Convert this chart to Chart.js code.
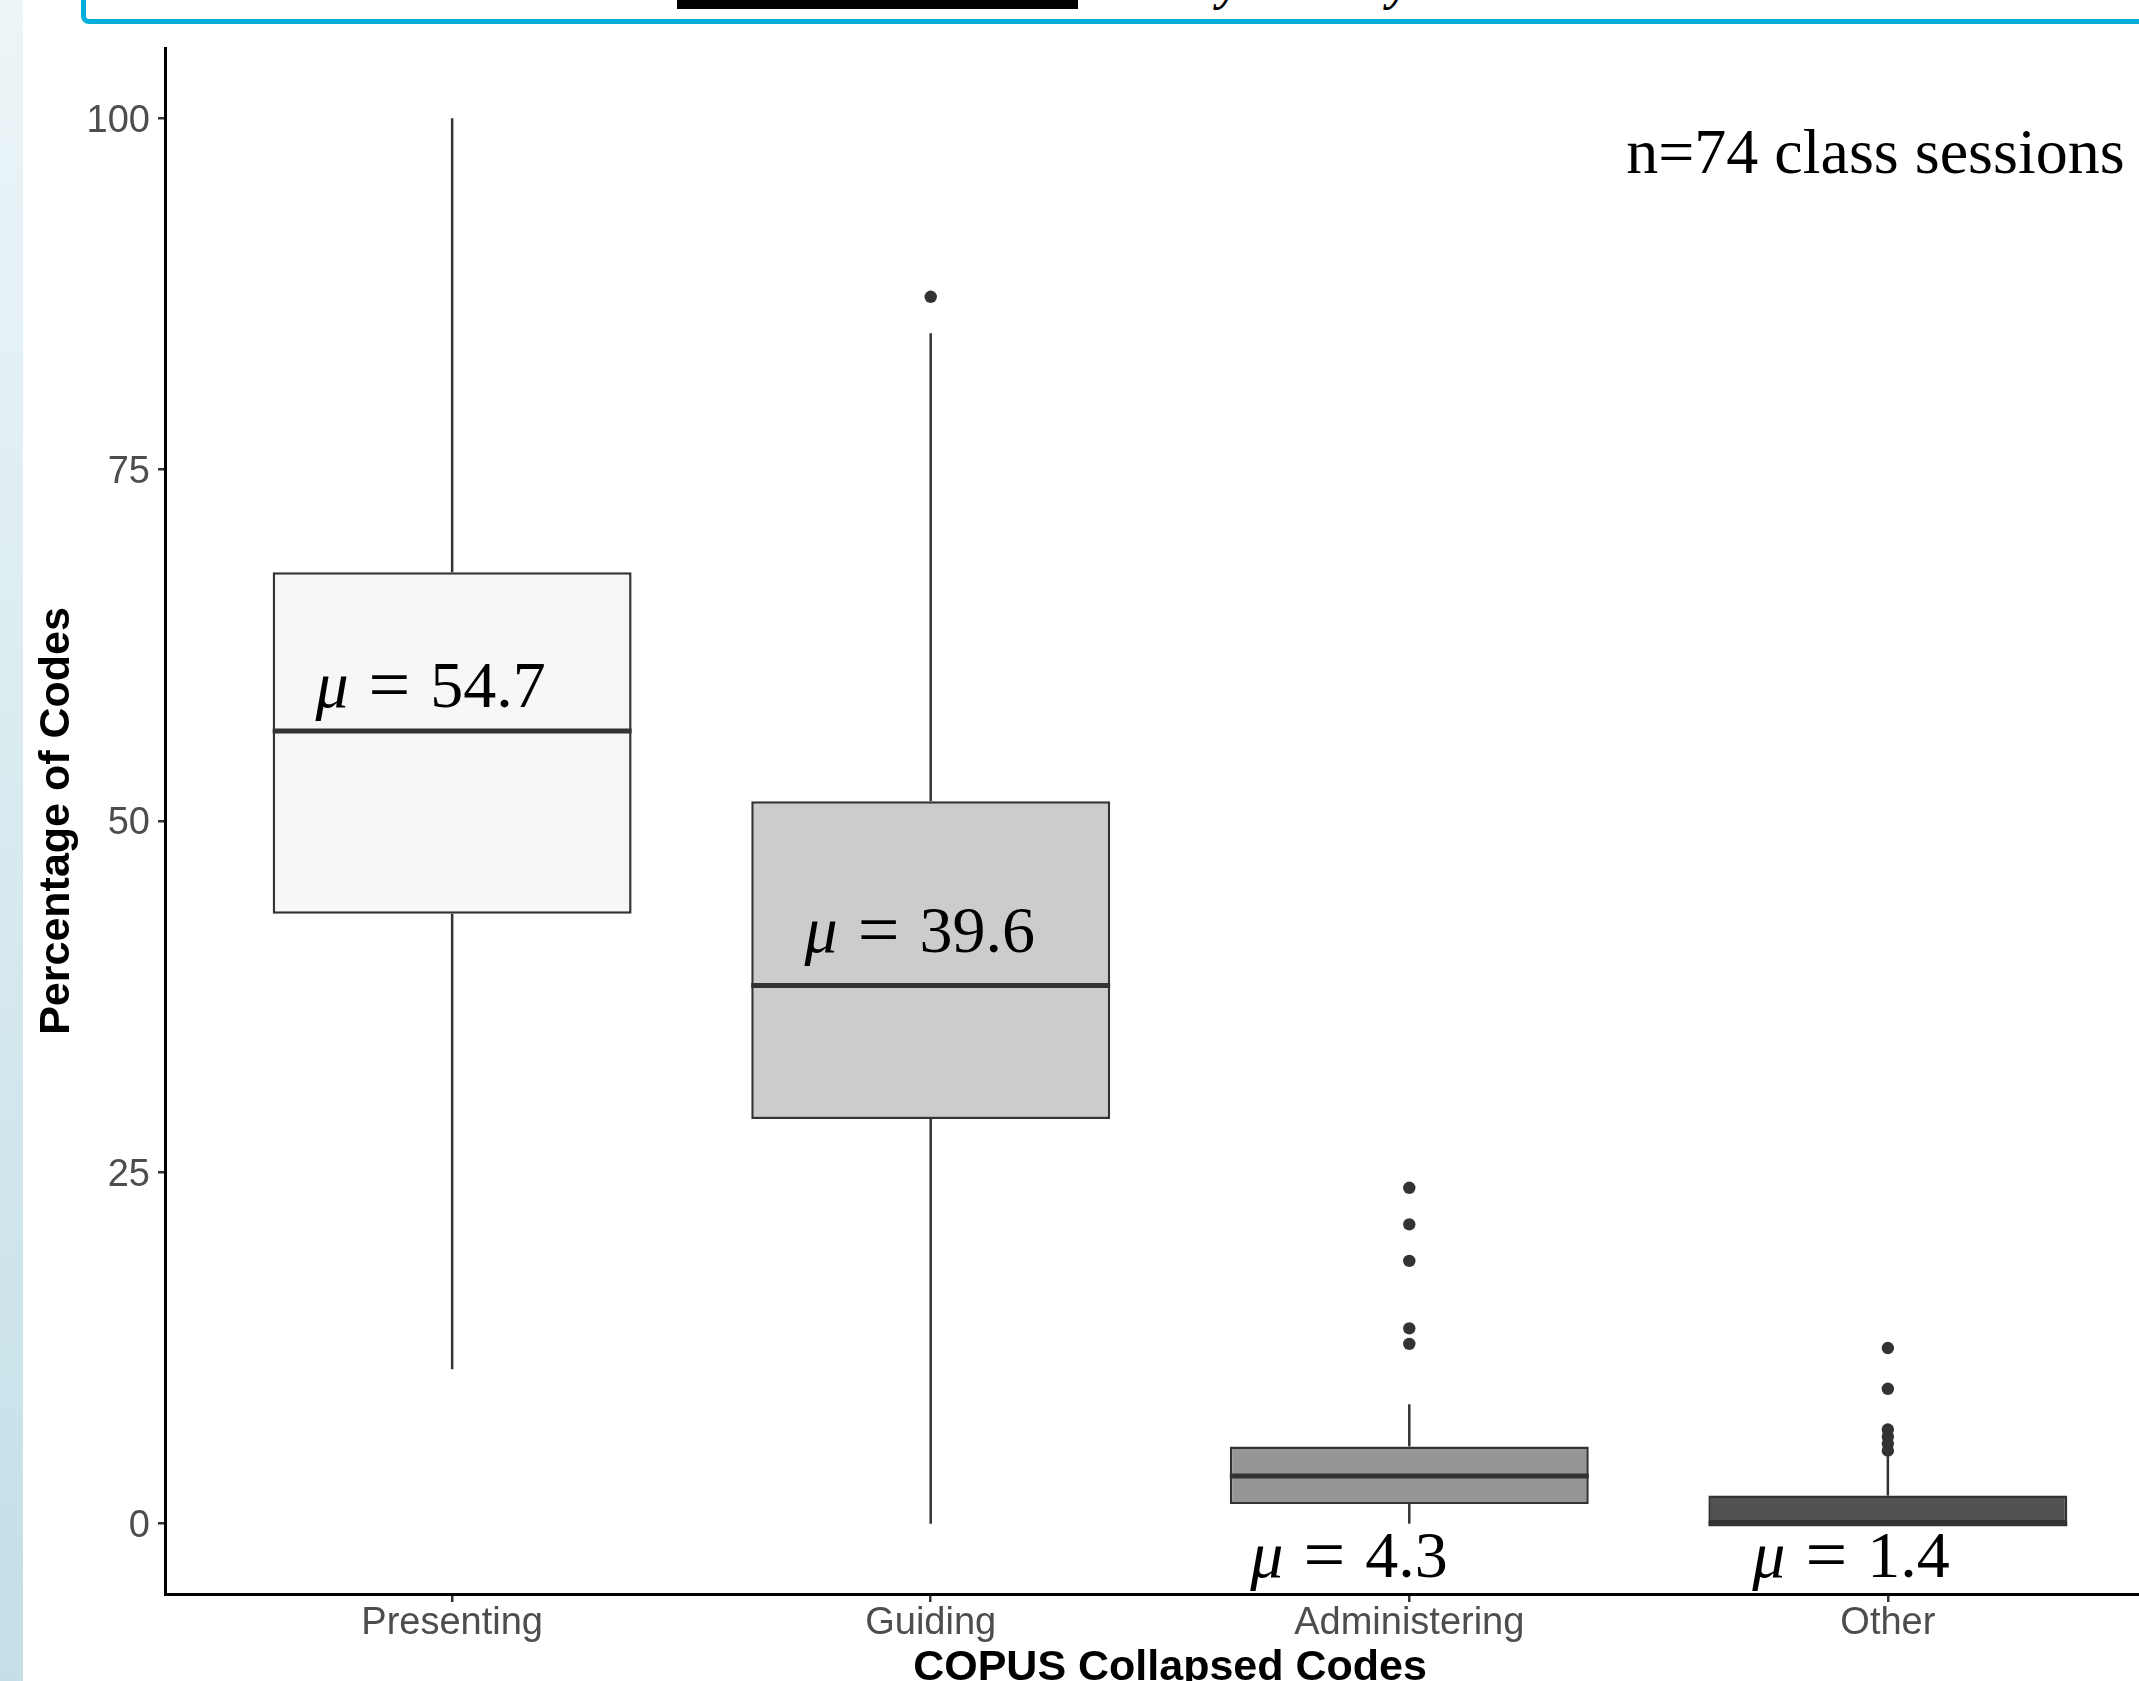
<!DOCTYPE html>
<html>
<head>
<meta charset="utf-8">
<script src="https://cdn.jsdelivr.net/npm/chart.js@4"></script>
<style>
  html, body { margin: 0; padding: 0; background: #ffffff; overflow: hidden; width: 2139px; height: 1681px; }
  #wrap { position: absolute; left: 0; top: 0; width: 2200px; height: 1700px; }
  #strip { position: absolute; left: 0; top: 0; width: 23px; height: 1681px; z-index: 2;
           background: linear-gradient(to bottom, #ecf5f8, #c4dfe7); }
  #frame { position: absolute; left: 81px; top: -50px; width: 2200px; height: 74px; z-index: 2;
           border: 5px solid #00aedb; border-radius: 8px; box-sizing: border-box; background: #fff; }
  #redact { position: absolute; left: 677px; top: 0; width: 401px; height: 9px; background: #000; z-index: 3; }
  .tail { position: absolute; top: -40px; font: italic bold 48px "Liberation Serif"; line-height: 48px; color: #000; z-index: 3; }
</style>
</head>
<body>
<div id="strip"></div>
<div id="frame"></div>
<div id="redact"></div>
<span class="tail" style="left:1218px">y</span>
<span class="tail" style="left:1388px">y</span>
<div id="wrap"><canvas id="myChart" width="2200" height="1700"></canvas></div>
<script>
// data
var categories = ["Presenting", "Guiding", "Administering", "Other"];
var whiskerLow = [11.0, 0, 0, 0];
var q1Values = [43.4, 28.8, 1.4, 0];
var medianValues = [56.4, 38.3, 3.4, 0];
var q3Values = [67.7, 51.4, 5.5, 2.0];
var whiskerHigh = [100, 84.7, 8.5, 4.8];
var outliers = [[], [87.3], [23.9, 21.3, 18.7, 13.9, 12.8], [12.5, 9.6, 6.7, 6.2, 5.7, 5.2]];
var meanLabels = ["54.7", "39.6", "4.3", "1.4"];
var yTicks = [0, 25, 50, 75, 100];
var sampleNote = "n=74 class sessions";

var boxColors = ["#f7f7f7", "#cccccc", "#969696", "#525252"];
// where the mean labels sit, in data units (x category position, y baseline)
var meanLabelPos = [[0.955, 58.1], [1.977, 40.7], [2.874, -3.8], [3.923, -3.8]];
var notePos = [3.974, 96.1];

var boxData = categories.map(function (c, i) {
    return { x: i + 1, y: [q1Values[i], q3Values[i]] };
});
var outlierData = [];
outliers.forEach(function (vals, i) {
    vals.forEach(function (v) { outlierData.push({ x: i + 1, y: v }); });
});

var boxExtras = {
    id: 'boxExtras',
    afterDatasetsDraw: function (chart) {
        var ctx = chart.ctx;
        var xs = chart.scales.x, ys = chart.scales.y;
        function seg(x1, y1, x2, y2) {
            ctx.beginPath(); ctx.moveTo(x1, y1); ctx.lineTo(x2, y2); ctx.stroke();
        }
        ctx.save();
        ctx.strokeStyle = '#333333';
        ctx.lineCap = 'butt';
        for (var i = 0; i < categories.length; i++) {
            var cx = xs.getPixelForValue(i + 1);
            ctx.lineWidth = 2.5;
            seg(cx, ys.getPixelForValue(whiskerLow[i]), cx, ys.getPixelForValue(q1Values[i]));
            seg(cx, ys.getPixelForValue(q3Values[i]), cx, ys.getPixelForValue(whiskerHigh[i]));
            ctx.lineWidth = 5;
            var my = ys.getPixelForValue(medianValues[i]);
            seg(xs.getPixelForValue(i + 1 - 0.375), my, xs.getPixelForValue(i + 1 + 0.375), my);
        }

        // mean labels: italic mu, wide "=", then the number upright
        ctx.fillStyle = '#000000';
        ctx.textBaseline = 'alphabetic';
        ctx.textAlign = 'left';
        var gap = 20;
        for (var j = 0; j < meanLabels.length; j++) {
            ctx.font = 'italic 66px "Liberation Serif"';
            var wMu = ctx.measureText("\u03bc").width;
            ctx.font = '74px "Liberation Serif"';
            var wEq = ctx.measureText("=").width;
            ctx.font = '66px "Liberation Serif"';
            var wNum = ctx.measureText(meanLabels[j]).width;
            var total = wMu + gap + wEq + gap + wNum;
            var lx = xs.getPixelForValue(meanLabelPos[j][0]) - total / 2;
            var ly = ys.getPixelForValue(meanLabelPos[j][1]);
            ctx.font = 'italic 66px "Liberation Serif"';
            ctx.fillText("\u03bc", lx, ly);
            ctx.font = '74px "Liberation Serif"';
            ctx.fillText("=", lx + wMu + gap, ly + 2);
            ctx.font = '66px "Liberation Serif"';
            ctx.fillText(meanLabels[j], lx + wMu + gap + wEq + gap, ly);
        }

        ctx.font = '64px "Liberation Serif"';
        ctx.textAlign = 'center';
        ctx.fillText(sampleNote, xs.getPixelForValue(notePos[0]), ys.getPixelForValue(notePos[1]));
        ctx.restore();
    }
};

new Chart("myChart", {
    type: "bar",
    data: {
        datasets: [{
            type: "bar",
            data: boxData,
            backgroundColor: boxColors,
            borderColor: "#333333",
            borderWidth: 2.5,
            borderSkipped: false,
            barPercentage: 0.75,
            categoryPercentage: 1
        }, {
            type: "scatter",
            data: outlierData,
            pointRadius: 6.2,
            pointBackgroundColor: "#333333",
            pointBorderWidth: 0
        }]
    },
    plugins: [boxExtras],
    options: {
        responsive: false,
        animation: false,
        layout: { padding: { left: 0, top: 48, right: 25, bottom: 0 } },
        plugins: {
            legend: { display: false },
            tooltip: { enabled: false }
        },
        scales: {
            x: {
                type: 'linear',
                min: 0.4,
                max: 4.6,
                offset: false,
                afterBuildTicks: function (scale) {
                    scale.ticks = categories.map(function (c, i) { return { value: i + 1 }; });
                },
                afterFit: function (scale) { scale.height = 106; },
                ticks: {
                    callback: function (value) { return categories[value - 1]; },
                    font: { family: 'Liberation Sans', size: 38, lineHeight: 1 },
                    color: '#4d4d4d',
                    padding: 3,
                    maxRotation: 0,
                    autoSkip: false
                },
                grid: { offset: false, drawOnChartArea: false, color: '#333333', tickLength: 8, lineWidth: 2.5 },
                border: { display: true, color: '#000000', width: 3 },
                title: {
                    display: true,
                    text: 'COPUS Collapsed Codes',
                    color: '#000000',
                    font: { family: 'Liberation Sans', size: 43, weight: 'bold', lineHeight: 1 },
                    padding: { top: 0, bottom: 10 }
                }
            },
            y: {
                min: -5,
                max: 105,
                afterBuildTicks: function (scale) {
                    scale.ticks = yTicks.map(function (v) { return { value: v }; });
                },
                afterFit: function (scale) { scale.width = 165; },
                ticks: {
                    font: { family: 'Liberation Sans', size: 38, lineHeight: 1 },
                    color: '#4d4d4d',
                    padding: 8,
                    labelOffset: 3
                },
                grid: { drawOnChartArea: false, color: '#333333', tickLength: 7, lineWidth: 2.5 },
                border: { display: true, color: '#000000', width: 3 },
                title: {
                    display: true,
                    text: 'Percentage of Codes',
                    color: '#000000',
                    font: { family: 'Liberation Sans', size: 43, weight: 'bold', lineHeight: 1 },
                    padding: { top: 36, bottom: 0 }
                }
            }
        }
    }
});
</script>
</body>
</html>
